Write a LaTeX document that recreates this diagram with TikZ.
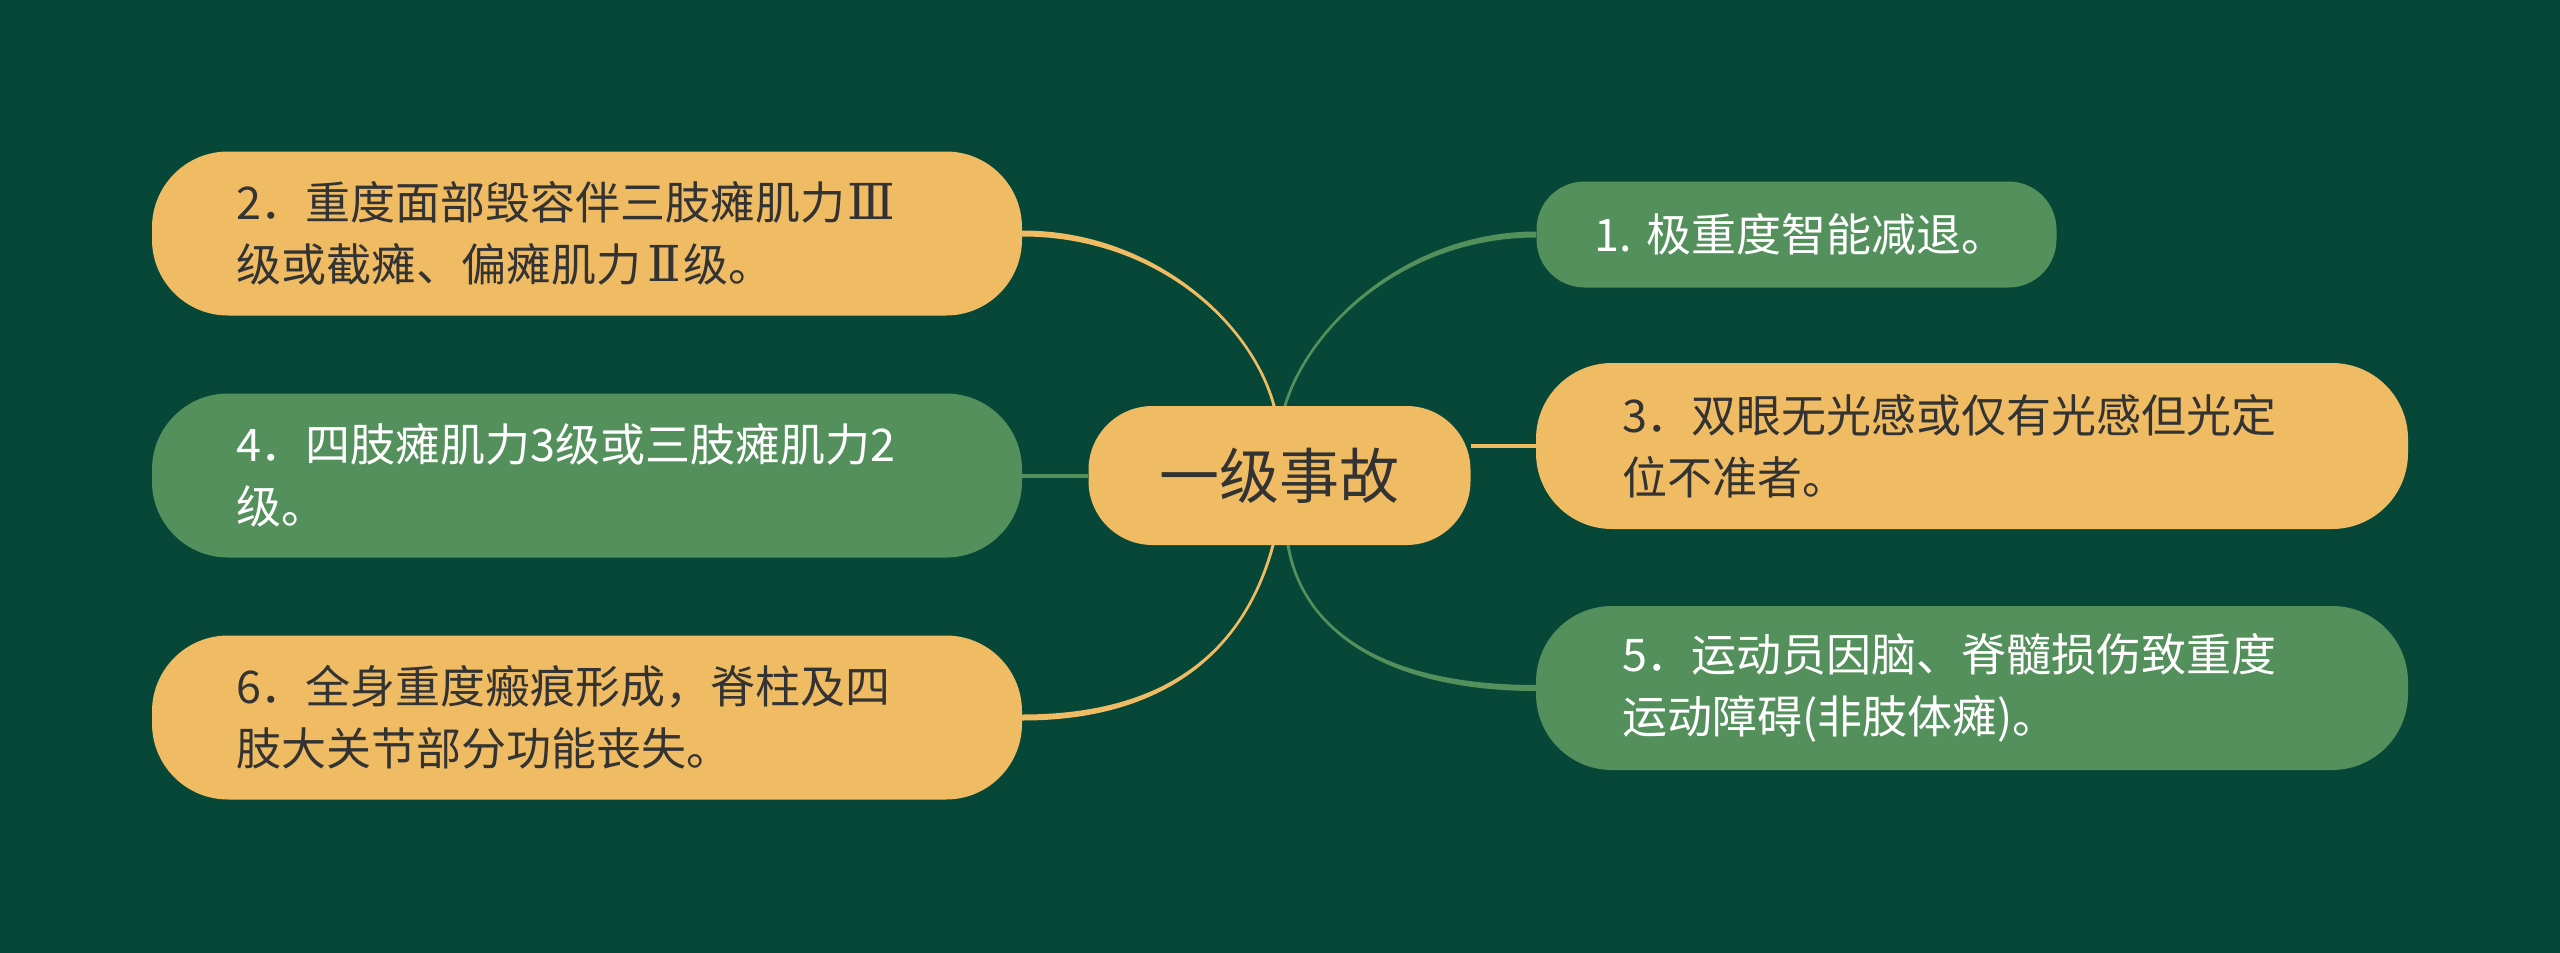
\documentclass[tikz,border=0pt]{standalone}
\usepackage{fontspec}
\setmainfont{Noto Sans CJK SC}
\newfontfamily\fwfont[Scale=1.1]{DejaVu Serif}
\pgfdeclarelayer{bg}
\pgfsetlayers{bg,main}
\definecolor{bgc}{HTML}{074738}
\definecolor{ylw}{HTML}{F0BC63}
\definecolor{grn}{HTML}{53905B}
\definecolor{dtxt}{HTML}{333333}
\newcommand{\fw}[1]{{\fwfont #1}}
\tikzset{
  leaf/.style={inner ysep=0pt, align=left, font=\fontsize{45}{62}\selectfont},
  ybox/.style={leaf, fill=ylw, text=dtxt},
  gbox/.style={leaf, fill=grn, text=white},
  yline/.style={draw=ylw, line width=4pt},
  gline/.style={draw=grn, line width=4pt},
}
\begin{document}
\begin{tikzpicture}[x=1pt,y=-1pt]
\useasboundingbox (0,0) rectangle (2560,953);
\begin{pgfonlayer}{bg}
\fill[bgc] (0,0) rectangle (2560,953);
\end{pgfonlayer}

% centre
\node[fill=ylw, text=dtxt, minimum width=382pt, minimum height=139pt, inner sep=0pt,
      rounded corners=64pt, font=\fontsize{60}{72}\selectfont] (c) at (1279.5,475.5) {一级事故};

% left
\node[ybox, minimum height=164pt, rounded corners=76pt, text width=702pt, inner xsep=84pt]
  (n2) at (587,233.5) {2．重度面部毁容伴三肢瘫肌力\hspace{2pt}\fw{Ⅲ}\\级或截瘫、偏瘫肌力\hspace{6pt}\fw{Ⅱ}\hspace{3pt}级。};
\node[gbox, minimum height=164pt, rounded corners=76pt, text width=702pt, inner xsep=84pt]
  (n4) at (587,475.5) {4．四肢瘫肌力3级或三肢瘫肌力2\\级。};
\node[ybox, minimum height=164pt, rounded corners=76pt, text width=702pt, inner xsep=84pt]
  (n6) at (587,717.5) {6．全身重度瘢痕形成，脊柱及四\\肢大关节部分功能丧失。};

% right
\node[gbox, minimum height=106pt, rounded corners=48pt, text width=404pt, inner xsep=58pt]
  (n1) at (1796.5,234.5) {1.~极重度智能减退。};
\node[ybox, minimum height=166pt, rounded corners=76pt, text width=700pt, inner xsep=86pt]
  (n3) at (1972,446) {3．双眼无光感或仅有光感但光定\\位不准者。};
\node[gbox, minimum height=164pt, rounded corners=76pt, text width=700pt, inner xsep=86pt]
  (n5) at (1972,688) {5．运动员因脑、脊髓损伤致重度\\运动障碍(非肢体瘫)。};

\coordinate (cty) at ([xshift=-5.5pt]c.north);
\coordinate (ctg) at ([xshift=5.5pt]c.north);
\coordinate (cby) at ([xshift=-6.5pt]c.south);
\coordinate (cbg) at ([xshift=8.5pt]c.south);

\begin{pgfonlayer}{bg}
% tapered curved connectors
\fill[ylw] ([yshift=3pt]n2.east) .. controls +(130,0) and +(-23,-85) .. ([xshift=1.5pt]cty)
  -- ([xshift=-1.5pt]cty) .. controls +(-23,-85) and +(130,0) .. ([yshift=-3pt]n2.east) -- cycle;
\fill[grn] ([yshift=3pt]n1.west) .. controls +(-130,0) and +(24,-80) .. ([xshift=-1.5pt]ctg)
  -- ([xshift=1.5pt]ctg) .. controls +(24,-80) and +(-130,0) .. ([yshift=-3pt]n1.west) -- cycle;
\fill[ylw] ([yshift=-3pt]n6.east) .. controls +(150,0) and +(-27,100) .. ([xshift=1.5pt]cby)
  -- ([xshift=-1.5pt]cby) .. controls +(-27,100) and +(150,0) .. ([yshift=3pt]n6.east) -- cycle;
\fill[grn] ([yshift=-3pt]n5.west) .. controls +(-147,0) and +(15,88) .. ([xshift=-1.5pt]cbg)
  -- ([xshift=1.5pt]cbg) .. controls +(15,88) and +(-147,0) .. ([yshift=3pt]n5.west) -- cycle;
% straight connectors
\draw[yline] (n3.west) -- (c.east |- n3.west);
\draw[gline] (n4.east) -- (c.west);
\end{pgfonlayer}
\end{tikzpicture}
\end{document}
